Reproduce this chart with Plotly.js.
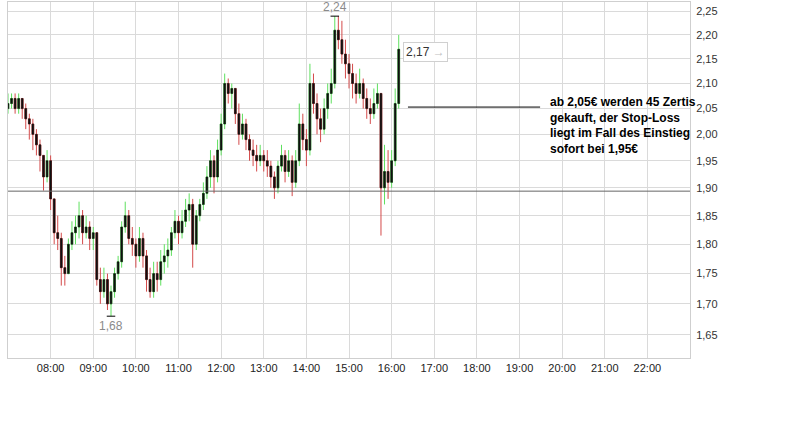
<!DOCTYPE html>
<html>
<head>
<meta charset="utf-8">
<script src="https://cdn.plot.ly/plotly-3.0.1.min.js"></script>
<style>html,body{margin:0;padding:0;background:#fff;}#chart{width:790px;height:430px;}</style>
</head>
<body>
<div id="chart"></div>
<script>
// 5-minute bars starting at 07:00
const sessionDate = '2010-06-01';
const firstBar = '07:00';
const barMinutes = 5;

const openP = [2.05,2.06,2.07,2.05,2.07,2.05,2.03,2.02,2.00,1.98,
  1.96,1.92,1.95,1.88,1.82,1.81,1.76,1.75,1.80,1.82,
  1.83,1.85,1.82,1.83,1.81,1.82,1.74,1.72,1.74,1.70,
  1.72,1.75,1.77,1.83,1.85,1.81,1.80,1.78,1.81,1.78,
  1.74,1.72,1.75,1.74,1.77,1.78,1.79,1.82,1.84,1.82,
  1.84,1.86,1.87,1.80,1.85,1.87,1.89,1.92,1.95,1.92,
  1.97,2.02,2.10,2.08,2.09,2.04,2.00,2.02,1.99,1.97,
  1.96,1.95,1.96,1.95,1.94,1.92,1.90,1.94,1.96,1.93,
  1.95,1.91,1.95,2.02,1.99,1.97,2.10,2.06,2.03,2.01,
  2.05,2.08,2.10,2.21,2.19,2.16,2.14,2.12,2.10,2.08,
  2.10,2.07,2.05,2.04,2.06,2.08,1.90,1.93,1.91,1.95,2.06];
const highP = [2.08,2.08,2.08,2.08,2.07,2.06,2.04,2.03,2.01,1.99,
  1.96,1.97,1.96,1.88,1.85,1.82,1.78,1.81,1.84,1.85,
  1.875,1.86,1.85,1.84,1.83,1.82,1.76,1.76,1.75,1.73,
  1.76,1.78,1.84,1.875,1.86,1.83,1.81,1.83,1.82,1.79,
  1.76,1.77,1.77,1.79,1.80,1.81,1.83,1.86,1.85,1.86,
  1.88,1.89,1.88,1.86,1.88,1.91,1.94,1.97,1.96,1.99,
  2.04,2.12,2.11,2.10,2.09,2.06,2.04,2.03,2.00,1.99,
  1.98,1.98,1.97,1.97,1.95,1.93,1.95,1.98,1.97,1.97,
  1.96,1.97,2.06,2.04,2.01,2.14,2.12,2.08,2.05,2.07,
  2.10,2.13,2.24,2.24,2.23,2.19,2.16,2.14,2.12,2.13,
  2.11,2.09,2.07,2.09,2.10,2.08,1.98,1.97,1.97,2.09,2.20];
const lowP = [2.04,2.05,2.04,2.04,2.03,2.01,1.99,1.97,1.96,1.93,
  1.895,1.91,1.86,1.80,1.79,1.73,1.73,1.75,1.79,1.80,
  1.81,1.80,1.81,1.79,1.79,1.73,1.70,1.71,1.69,1.68,
  1.71,1.74,1.76,1.82,1.80,1.78,1.76,1.77,1.76,1.72,
  1.71,1.71,1.72,1.73,1.75,1.76,1.78,1.81,1.80,1.81,
  1.83,1.84,1.76,1.79,1.84,1.86,1.88,1.90,1.89,1.91,
  1.96,2.01,2.06,2.05,2.02,1.98,1.99,1.97,1.95,1.94,
  1.93,1.94,1.93,1.92,1.90,1.88,1.89,1.93,1.91,1.92,
  1.885,1.90,1.94,1.97,1.94,1.96,2.04,2.00,1.985,2.00,
  2.03,2.06,2.09,2.17,2.14,2.11,2.09,2.07,2.06,2.07,
  2.05,2.03,2.02,2.03,2.05,1.815,1.87,1.88,1.90,1.94,2.05];
const closeP = [2.06,2.07,2.05,2.07,2.05,2.03,2.02,2.00,1.98,1.96,
  1.92,1.95,1.88,1.82,1.81,1.76,1.75,1.80,1.82,1.83,
  1.85,1.82,1.83,1.81,1.82,1.74,1.72,1.74,1.70,1.72,
  1.75,1.77,1.83,1.85,1.81,1.80,1.78,1.81,1.78,1.74,
  1.72,1.75,1.74,1.77,1.78,1.79,1.82,1.84,1.82,1.84,
  1.86,1.87,1.80,1.85,1.87,1.89,1.92,1.95,1.92,1.97,
  2.02,2.10,2.08,2.09,2.04,2.00,2.02,1.99,1.97,1.96,
  1.95,1.96,1.95,1.94,1.92,1.90,1.94,1.96,1.93,1.95,
  1.91,1.95,2.02,1.99,1.97,2.10,2.06,2.03,2.01,2.05,
  2.08,2.10,2.21,2.19,2.16,2.14,2.12,2.10,2.08,2.10,
  2.07,2.05,2.04,2.06,2.08,1.90,1.93,1.91,1.95,2.06,2.17];

const yTickVals = [1.65,1.70,1.75,1.80,1.85,1.90,1.95,2.00,2.05,2.10,2.15,2.20,2.25];
const yTickText = ['1,65','1,70','1,75','1,80','1,85','1,90','1,95','2,00','2,05','2,10','2,15','2,20','2,25'];
const xTickHours = ['08:00','09:00','10:00','11:00','12:00','13:00','14:00','15:00','16:00','17:00','18:00','19:00','20:00','21:00','22:00'];

const refLine = 1.894;       // horizontal reference line
const entryLevel = 2.053;    // annotation pointer level
const dayHigh = 2.24, dayLow = 1.68, lastPrice = '2,17';
const noteLines = ['ab 2,05€ werden 45 Zertis','gekauft, der Stop-Loss','liegt im Fall des Einstieg','sofort bei 1,95€'];

function tAt(minutesFromFirst){
  const [h,m] = firstBar.split(':').map(Number);
  const tot = h*60+m+minutesFromFirst;
  const hh = String(Math.floor(tot/60)).padStart(2,'0');
  const mm = String(Math.round(tot%60)).padStart(2,'0');
  return sessionDate+' '+hh+':'+mm;
}
const times = openP.map((_,i)=>tAt(i*barMinutes));
const bodyHigh = openP.map((o,i)=>Math.max(o,closeP[i]));
const bodyLow = openP.map((o,i)=>Math.min(o,closeP[i]));

const iHigh = highP.indexOf(Math.max(...highP));
const iLow = lowP.indexOf(Math.min(...lowP));

const font = 'Arial, "Liberation Sans", sans-serif';
const yRange = [0.20790, 0.35614];
const L = Math.log10;
function yPaper(v){ return (L(v)-yRange[0])/(yRange[1]-yRange[0]); }

const traces = [
  {type:'candlestick', x:times, open:openP, high:highP, low:lowP, close:closeP,
   increasing:{line:{color:'#5fe05f',width:1},fillcolor:'#5fe05f'},
   decreasing:{line:{color:'#d44a4a',width:1},fillcolor:'#d44a4a'},
   whiskerwidth:0, hoverinfo:'skip', showlegend:false},
  {type:'candlestick', x:times, open:openP, high:bodyHigh, low:bodyLow, close:closeP,
   increasing:{line:{color:'#111',width:0.5},fillcolor:'#111'},
   decreasing:{line:{color:'#111',width:0.5},fillcolor:'#111'},
   whiskerwidth:0, hoverinfo:'skip', showlegend:false}
];

const shapes = [
  {type:'line', xref:'paper', x0:0, x1:1, yref:'paper', y0:yPaper(refLine), y1:yPaper(refLine), line:{color:'#666',width:1}},
  {type:'line', xref:'x', x0:sessionDate+' 16:23', x1:sessionDate+' 19:29', yref:'paper', y0:yPaper(entryLevel), y1:yPaper(entryLevel), line:{color:'#000',width:1}},
  {type:'line', xref:'x', x0:tAt(iHigh*barMinutes-6), x1:tAt(iHigh*barMinutes+6), yref:'paper', y0:yPaper(dayHigh), y1:yPaper(dayHigh), line:{color:'#000',width:1}},
  {type:'line', xref:'x', x0:tAt(iLow*barMinutes-6), x1:tAt(iLow*barMinutes+6), yref:'paper', y0:yPaper(dayLow), y1:yPaper(dayLow), line:{color:'#000',width:1}}
];

const plotTop = 2, plotBottom = 358;
function py(px){ return (plotBottom-px)/(plotBottom-plotTop); }
const noteY = [101.7,117.7,133.3,149];
const annotations = noteLines.map((t,k)=>({
  text:'<b>'+t+'</b>', xref:'paper', x:(548-8)/682, yref:'paper', y:py(noteY[k]),
  xanchor:'left', yanchor:'middle', showarrow:false, align:'left',
  font:{family:font,size:12,color:'#000'}
}));
annotations.push(
  {text:'2,24', xref:'x', x:times[iHigh], yref:'paper', y:yPaper(dayHigh), yanchor:'bottom', yshift:0, showarrow:false,
   font:{family:font,size:12,color:'#8a8a8a'}},
  {text:'1,68', xref:'x', x:times[iLow], yref:'paper', y:yPaper(dayLow), yanchor:'top', yshift:-1, showarrow:false,
   font:{family:font,size:12,color:'#8a8a8a'}},
  {text:lastPrice+' <span style="color:#c0c0c0">→</span>', xref:'paper', x:(403-8)/682, yref:'paper', y:py(52),
   xanchor:'left', yanchor:'middle', showarrow:false, bgcolor:'#fff', bordercolor:'#d0d0d0', borderwidth:1, borderpad:2,
   font:{family:font,size:12,color:'#333'}}
);

const layout = {
  width:790, height:430,
  margin:{l:8, r:100, t:2, b:72, pad:0},
  paper_bgcolor:'#fff', plot_bgcolor:'#fff',
  showlegend:false, hovermode:false,
  font:{family:font,size:11,color:'#222'},
  xaxis:{type:'date', range:[sessionDate+' 07:00', sessionDate+' 23:00'],
    tickvals:xTickHours.map(h=>sessionDate+' '+h), ticktext:xTickHours,
    showgrid:true, gridcolor:'#dadada', gridwidth:1,
    showline:true, mirror:true, linecolor:'#cfcfcf', linewidth:1,
    ticks:'', zeroline:false, rangeslider:{visible:false},
    tickfont:{family:font,size:11,color:'#222'}},
  yaxis:{type:'log', side:'right', range:yRange,
    tickvals:yTickVals, ticktext:yTickText,
    showgrid:true, gridcolor:'#dadada', gridwidth:1,
    showline:true, mirror:true, linecolor:'#cfcfcf', linewidth:1,
    ticks:'', zeroline:false, ticklabelstandoff:3,
    tickfont:{family:font,size:11,color:'#333'}},
  shapes:shapes,
  annotations:annotations
};

Plotly.newPlot('chart', traces, layout, {displayModeBar:false, staticPlot:true});
</script>
</body>
</html>
